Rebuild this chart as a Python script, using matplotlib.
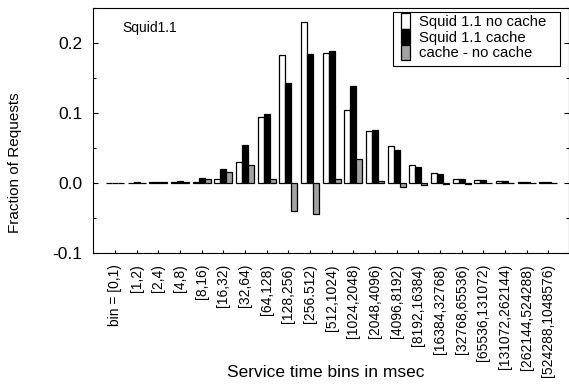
import numpy as np
import matplotlib
matplotlib.use("Agg")
import matplotlib.pyplot as plt
from matplotlib.ticker import MultipleLocator
from matplotlib.patches import Rectangle

plt.rcParams['font.family'] = ['Liberation Sans', 'DejaVu Sans']

bins = ['bin = [0,1)', '[1,2)', '[2,4)', '[4,8)', '[8,16)', '[16,32)', '[32,64)',
        '[64,128)', '[128,256)', '[256.512)', '[512,1024)', '[1024,2048)',
        '[2048,4096)', '[4096,8192)', '[8192,16384)', '[16384,32768)',
        '[32768,65536)', '[65536,131072)', '[131072,262144)', '[262144,524288)',
        '[524288,1048576)']
no_cache = [0.0003, 0.0005, 0.0008, 0.0015, 0.001, 0.0057, 0.030, 0.094, 0.1825, 0.229,
            0.185, 0.104, 0.0735, 0.053, 0.025, 0.014, 0.006, 0.004, 0.002, 0.001, 0.0008]
cache = [0.0003, 0.001, 0.0015, 0.003, 0.007, 0.020, 0.0545, 0.0986, 0.143, 0.184,
         0.1886, 0.138, 0.0758, 0.047, 0.022, 0.0133, 0.006, 0.004, 0.002, 0.001, 0.0008]
diff = [0.0, 0.0005, 0.0007, 0.0015, 0.006, 0.016, 0.025, 0.0057, -0.040, -0.045,
        0.005, 0.034, 0.003, -0.0057, -0.003, -0.002, -0.001, -0.0005, 0.0, 0.0, 0.0]

fig = plt.figure(figsize=(5.69, 3.86), dpi=100)
ax = fig.add_axes([0.164, 0.3446, 0.8352, 0.6355])

x = np.arange(len(bins))
w = 0.28
ax.bar(x - w, no_cache, w, color="white", edgecolor="black", linewidth=0.9, label="Squid 1.1 no cache")
ax.bar(x, cache, w, color="black", edgecolor="black", linewidth=0.9, label="Squid 1.1 cache")
ax.bar(x + w, diff, w, color="#a2a2a2", edgecolor="black", linewidth=0.9, label="cache - no cache")

ax.set_xlim(-1, 20.93)
ax.set_ylim(-0.1, 0.25)
ax.set_xticks(x)
ax.set_xticklabels(bins, rotation=90, fontsize=10)
ax.set_yticks([-0.1, 0.0, 0.1, 0.2])
ax.set_yticklabels(['-0.1', '0.0', '0.1', '0.2'], fontsize=12.5)
ax.yaxis.set_minor_locator(MultipleLocator(0.05))
ax.tick_params(axis='y', which='both', direction='in', left=True, right=True, pad=8)
ax.tick_params(axis='y', which='major', length=3.5, width=0.8)
ax.tick_params(axis='y', which='minor', length=2, width=0.8)
ax.tick_params(axis='x', direction='in', length=2.5, width=0.8, pad=8, top=False)
for s in ax.spines.values():
    s.set_linewidth(0.8)

ax.set_ylabel('Fraction of Requests', fontsize=11)
ax.yaxis.set_label_coords(-0.150, 0.37)
ax.set_xlabel('Service time bins in msec', fontsize=12.5, va='top')
ax.xaxis.set_label_coords(0.489, -0.455)

ax.text(0.06, 0.946, 'Squid1.1', transform=ax.transAxes, fontsize=10, va='top', ha='left')

# legend without frame, box drawn by hand so the padding matches
leg = ax.legend(loc='upper left', bbox_to_anchor=(0.6475, 0.978), borderaxespad=0,
                fontsize=10.7, frameon=False,
                handlelength=0.6, handleheight=1.22, labelspacing=0,
                handletextpad=0.6, borderpad=0)
ax.add_patch(Rectangle((0.630, 0.762), 0.352, 0.220, transform=ax.transAxes,
                       fill=False, edgecolor='black', linewidth=0.8, clip_on=False, zorder=5))

plt.savefig("out.png", dpi=100)
plt.close()
